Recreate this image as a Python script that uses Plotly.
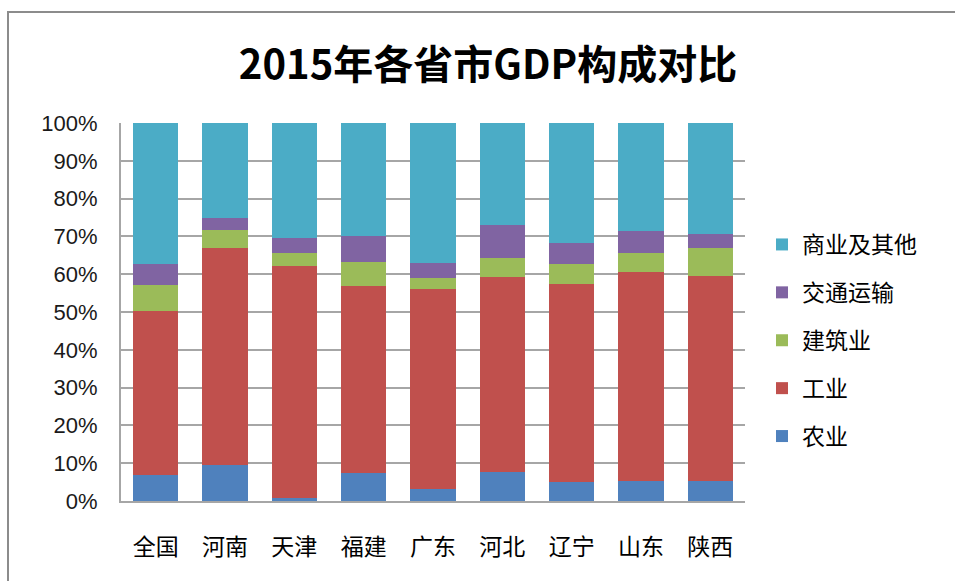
import plotly.graph_objects as go

categories = ["全国", "河南", "天津", "福建", "广东", "河北", "辽宁", "山东", "陕西"]
agriculture = [7.0, 9.4, 0.8, 7.3, 3.1, 7.6, 5.0, 5.2, 5.2]
industry = [43.3, 57.6, 61.4, 49.5, 53.0, 51.6, 52.5, 55.4, 54.4]
construction = [6.8, 4.7, 3.4, 6.5, 3.0, 5.0, 5.1, 5.0, 7.4]
transport = [5.5, 3.1, 4.1, 6.7, 3.8, 8.8, 5.7, 5.8, 3.7]
commerce_other = [37.4, 25.2, 30.3, 30.0, 37.1, 27.0, 31.7, 28.6, 29.3]

series_names = ["农业", "工业", "建筑业", "交通运输", "商业及其他"]
series_values = [agriculture, industry, construction, transport, commerce_other]
series_colors = ["#4F81BD", "#C0504D", "#9BBB59", "#8064A2", "#4BACC6"]
tick_vals = [0, 10, 20, 30, 40, 50, 60, 70, 80, 90, 100]
tick_text = [f"{v}%" for v in tick_vals]

fig = go.Figure()
for i, (name, vals, col) in enumerate(zip(series_names, series_values, series_colors)):
    fig.add_trace(go.Bar(
        x=categories, y=vals, name=name, legendgroup=name,
        legendrank=1000 - i,
        marker=dict(color=col, line=dict(width=0)),
    ))

L, R, T, B = 121, 210, 123, 80
W, H = 955, 581
pw, ph = W - L - R, H - T - B

fig.update_layout(
    width=W, height=H,
    barmode="stack", bargap=0.35,
    margin=dict(l=L, r=R, t=T, b=B, pad=0),
    paper_bgcolor="white", plot_bgcolor="white",
    font=dict(family="Noto Sans CJK SC, sans-serif", color="#000000"),
    title=dict(
        text="<b>2015年各省市GDP构成对比</b>",
        x=488 / W, xref="container", xanchor="center",
        y=1 - 65 / H, yref="container", yanchor="middle",
        font=dict(size=40, family="Noto Sans CJK SC, sans-serif", color="#000000"),
    ),
    showlegend=True,
    legend=dict(
        traceorder="grouped",
        x=(762 - L) / pw, xanchor="left",
        y=(H - B - 223) / ph, yanchor="top",
        font=dict(size=23, family="Noto Sans CJK SC, sans-serif"),
        tracegroupgap=15, itemwidth=30,
        bgcolor="rgba(0,0,0,0)",
    ),
    xaxis=dict(
        showline=True, linecolor="#A6A6A6", linewidth=2,
        showgrid=False, ticks="", ticklabelstandoff=24,
        tickfont=dict(size=23, family="Noto Sans CJK SC, sans-serif"),
    ),
    yaxis=dict(
        range=[0, 100], tickvals=tick_vals, ticktext=tick_text,
        showline=True, linecolor="#A6A6A6", linewidth=2,
        showgrid=True, gridcolor="#A6A6A6", gridwidth=2,
        ticks="", ticklabelstandoff=17, zeroline=False,
        tickfont=dict(size=22, family="Liberation Sans, Arial, sans-serif", color="#1a1a1a"),
    ),
    shapes=[dict(
        type="rect", xref="paper", yref="paper",
        x0=(8 - L) / pw, x1=(W + 20 - L) / pw,
        y0=(H - B - (H + 20)) / ph, y1=(H - B - 12) / ph,
        line=dict(color="#8C8C8C", width=2), fillcolor="rgba(0,0,0,0)", layer="below",
    )],
)

fig.write_html(
    "out.html",
    config={"displayModeBar": False},
    post_script="document.body.style.margin='0';document.body.style.overflow='hidden';",
)
